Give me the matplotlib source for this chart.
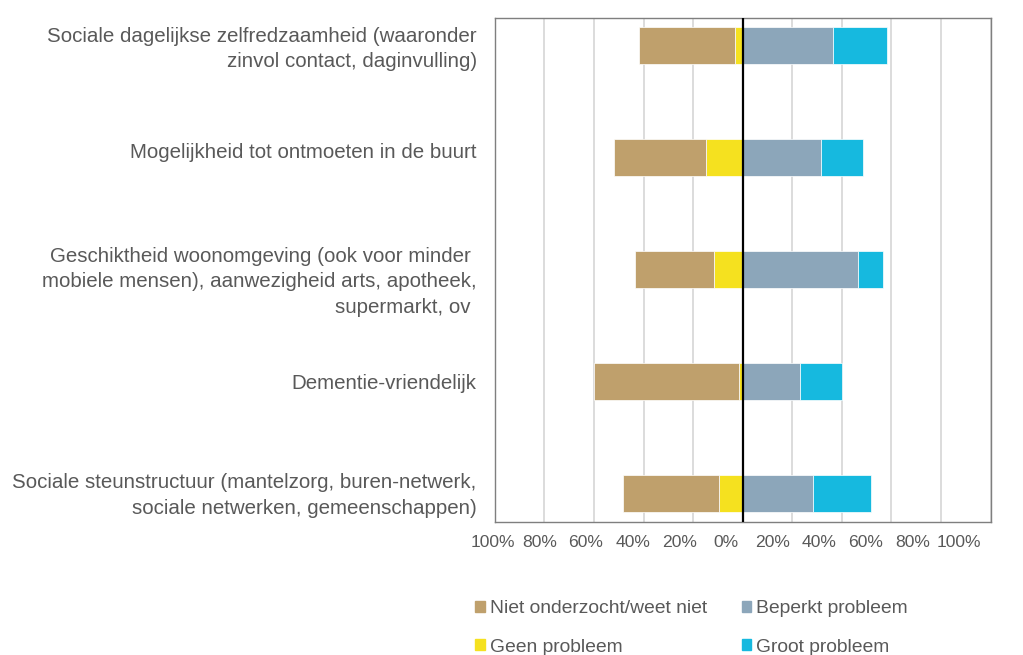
import numpy as np
import matplotlib
matplotlib.use('Agg')
from matplotlib import pyplot as plt
from matplotlib.patches import Patch
from matplotlib.transforms import ScaledTranslation

plt.rcParams['font.family'] = ['Liberation Sans', 'DejaVu Sans']

# categorieen (boven naar onder)
categories = ['Sociale dagelijkse zelfredzaamheid (waaronder\nzinvol contact, daginvulling)',
              'Mogelijkheid tot ontmoeten in de buurt',
              'Geschiktheid woonomgeving (ook voor minder \nmobiele mensen), aanwezigheid arts, apotheek,\nsupermarkt, ov ',
              'Dementie-vriendelijk',
              'Sociale steunstructuur (mantelzorg, buren-netwerk,\nsociale netwerken, gemeenschappen)']

# percentages, links van 0
niet_onderzocht = [38.5, 37.0, 31.8, 58.6, 38.6]
geen_probleem = [3.2, 14.8, 11.6, 1.5, 9.7]
# rechts van 0
beperkt_probleem = [36.5, 31.6, 46.4, 23.2, 28.3]
groot_probleem = [21.8, 16.8, 10.3, 16.8, 23.3]

xticks = [-100, -80, -60, -40, -20, 0, 20, 40, 60, 80, 100]
xticklabels = ['100%', '80%', '60%', '40%', '20%', '0%', '20%', '40%', '60%', '80%', '100%']

c_niet = '#BFA06C'
c_geen = '#F5E11F'
c_beperkt = '#8CA6BA'
c_groot = '#16B9DF'
grey = '#595959'

fig = plt.figure(figsize=(10.23, 6.55), dpi=100)
ax = fig.add_axes([0.4836, 0.2035, 0.4848, 0.7695])

y = np.arange(len(categories))
h = 0.333
geen = np.array(geen_probleem)
niet = np.array(niet_onderzocht)
bep = np.array(beperkt_probleem)
groot = np.array(groot_probleem)

kw = dict(height=h, edgecolor='white', linewidth=0.5, zorder=2)
ax.barh(y, -geen, left=0, color=c_geen, **kw)
ax.barh(y, -niet, left=-geen, color=c_niet, **kw)
ax.barh(y, bep, left=0, color=c_beperkt, **kw)
ax.barh(y, groot, left=bep, color=c_groot, **kw)

ax.axvline(0, color='black', lw=1.6, zorder=3)

ax.set_xlim(-100, 100)
ax.set_ylim(len(categories) - 0.75, -0.25)

ax.set_xticks(xticks)
ax.set_xticklabels(xticklabels, fontsize=12.6, color=grey)
ax.tick_params(axis='x', length=0, pad=9.5)
# labels staan in het origineel iets naar links verschoven (excel), in pixels
for lab, t in zip(ax.get_xticklabels(), xticks):
    dx = (-6.8 - 0.06 * t) * 2.48
    lab.set_transform(lab.get_transform() + ScaledTranslation(dx / 100, 0, fig.dpi_scale_trans))

ax.set_yticks(y)
ax.set_yticklabels(categories, fontsize=14.8, color=grey, linespacing=1.44)
ax.tick_params(axis='y', length=0, pad=13)
# kleine verticale verschuiving per label (pixels, + is omhoog)
label_shift = [2, 7, -7, 0, 3.5]
for lab, dy in zip(ax.get_yticklabels(), label_shift):
    lab.set_transform(lab.get_transform() + ScaledTranslation(0, dy / 100, fig.dpi_scale_trans))

ax.grid(axis='x', color='#d9d9d9', lw=1.3, zorder=0)
ax.set_axisbelow(True)
for s in ax.spines.values():
    s.set_color('#7f7f7f')
    s.set_linewidth(1.0)

# legenda (volgorde kolomsgewijs)
handles = [Patch(color=c_niet, label='Niet onderzocht/weet niet'),
           Patch(color=c_geen, label='Geen probleem'),
           Patch(color=c_beperkt, label='Beperkt probleem'),
           Patch(color=c_groot, label='Groot probleem')]
fig.legend(handles=handles, ncol=2, loc='upper left', bbox_to_anchor=(0.4643, 0.0834),
           frameon=False, fontsize=13.9, labelcolor=grey, borderpad=0, borderaxespad=0,
           handlelength=0.5, handleheight=0.5, handletextpad=0.26,
           columnspacing=1.81, labelspacing=1.1)

plt.savefig('out.png', dpi=100)
